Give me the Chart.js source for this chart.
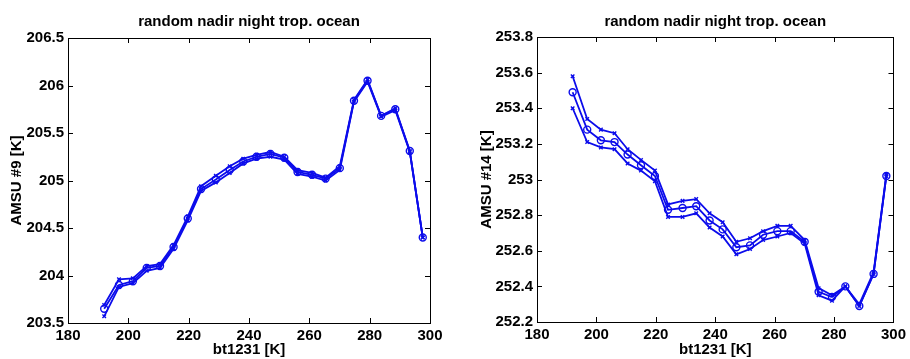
<!DOCTYPE html>
<html>
<head>
<meta charset="utf-8">
<script src="https://cdn.jsdelivr.net/npm/chart.js@4/dist/chart.umd.min.js"></script>
<style>
  html, body { margin: 0; padding: 0; background: #fff; }
  .panel { position: absolute; top: 0; width: 455px; height: 359px; }
  #left { left: 0; }
  #right { left: 455px; }
</style>
</head>
<body>
<div class="panel" id="left"><canvas id="amsu9Chart" width="455" height="359"></canvas></div>
<div class="panel" id="right"><canvas id="amsu14Chart" width="455" height="359"></canvas></div>
<script>
// ---- data ----
const titleText = 'random nadir night trop. ocean';
const xLabel = 'bt1231 [K]';

const bt1231 = [192, 196.9, 201.5, 206.1, 210.5, 215, 219.7, 224.1, 229, 233.6, 238.1, 242.5,
                247.1, 251.7, 256.1, 260.9, 265.4, 270.1, 274.8, 279.3, 283.8, 288.5, 293.3, 297.6];
const xTicks = [180, 200, 220, 240, 260, 280, 300];

const amsu9Upper = [203.69, 203.96, 203.97, 204.10, 204.12, 204.32, 204.62, 204.94, 205.05, 205.15, 205.23, 205.27,
                    205.30, 205.25, 205.11, 205.08, 205.03, 205.15, 205.85, 206.06, 205.68, 205.76, 205.31, 204.40];
const amsu9Mid   = [203.65, 203.90, 203.94, 204.08, 204.10, 204.30, 204.60, 204.91, 205.01, 205.11, 205.20, 205.25,
                    205.28, 205.24, 205.09, 205.06, 205.02, 205.13, 205.84, 206.05, 205.68, 205.75, 205.31, 204.40];
const amsu9Lower = [203.57, 203.88, 203.92, 204.05, 204.08, 204.28, 204.58, 204.89, 204.98, 205.08, 205.18, 205.23,
                    205.25, 205.22, 205.07, 205.04, 205.00, 205.11, 205.83, 206.04, 205.67, 205.74, 205.30, 204.40];
const amsu9Ticks = [203.5, 204, 204.5, 205, 205.5, 206, 206.5];

const amsu14Upper = [253.58, 253.34, 253.28, 253.26, 253.17, 253.11, 253.05, 252.86, 252.88, 252.89, 252.81, 252.76,
                     252.65, 252.67, 252.71, 252.74, 252.74, 252.66, 252.39, 252.35, 252.40, 252.30, 252.48, 253.03];
const amsu14Mid   = [253.49, 253.28, 253.22, 253.21, 253.14, 253.08, 253.02, 252.83, 252.84, 252.85, 252.77, 252.72,
                     252.62, 252.63, 252.69, 252.71, 252.71, 252.65, 252.37, 252.34, 252.40, 252.29, 252.47, 253.02];
const amsu14Lower = [253.40, 253.21, 253.18, 253.17, 253.09, 253.05, 252.99, 252.79, 252.79, 252.81, 252.73, 252.68,
                     252.58, 252.61, 252.66, 252.68, 252.70, 252.64, 252.35, 252.32, 252.40, 252.29, 252.47, 253.02];
const amsu14Ticks = [252.2, 252.4, 252.6, 252.8, 253, 253.2, 253.4, 253.6, 253.8];

const blue = 'rgb(12,12,235)';
const fontFamily = '"Liberation Sans", Arial, Helvetica, sans-serif';

function toPoints(ys) {
  return ys.map((y, i) => ({ x: bt1231[i], y: y }));
}

function series(ys, marker) {
  return {
    data: toPoints(ys),
    showLine: true,
    borderColor: blue,
    backgroundColor: 'rgba(0,0,0,0)',
    borderWidth: 1.8,
    pointStyle: marker,
    pointRadius: marker === 'circle' ? 3.5 : 2.5,
    pointBorderColor: blue,
    pointBorderWidth: 1.4,
    pointBackgroundColor: 'rgba(0,0,0,0)'
  };
}

// MATLAB style box with inward ticks + centred title
const matlabFrame = {
  id: 'matlabFrame',
  afterDraw(chart) {
    const { ctx, chartArea: a, scales } = chart;
    const t = 5;
    ctx.save();
    ctx.strokeStyle = '#000';
    ctx.lineWidth = 1;
    ctx.beginPath();
    scales.x.ticks.forEach(tk => {
      const px = Math.round(scales.x.getPixelForValue(tk.value)) + 0.5;
      ctx.moveTo(px, a.bottom); ctx.lineTo(px, a.bottom - t);
      ctx.moveTo(px, a.top); ctx.lineTo(px, a.top + t);
    });
    scales.y.ticks.forEach(tk => {
      const py = Math.round(scales.y.getPixelForValue(tk.value)) + 0.5;
      ctx.moveTo(a.left, py); ctx.lineTo(a.left + t, py);
      ctx.moveTo(a.right, py); ctx.lineTo(a.right - t, py);
    });
    ctx.stroke();
    ctx.strokeRect(Math.round(a.left) + 0.5, Math.round(a.top) + 0.5,
                   Math.round(a.right - a.left), Math.round(a.bottom - a.top));
    ctx.fillStyle = '#000';
    ctx.font = 'bold 15px ' + fontFamily;
    ctx.textAlign = 'center';
    ctx.textBaseline = 'middle';
    ctx.fillText(titleText, (a.left + a.right) / 2, 22);
    ctx.restore();
  }
};

function makeChart(id, datasets, yTicks, yLabel, box) {
  const ctx = document.getElementById(id).getContext('2d');
  return new Chart(ctx, {
    type: 'scatter',
    data: { datasets: datasets },
    options: {
      responsive: false,
      animation: false,
      devicePixelRatio: 1,
      layout: { padding: { left: 0, right: box.right, top: box.top, bottom: 0 } },
      plugins: { legend: { display: false }, tooltip: { enabled: false }, title: { display: false } },
      scales: {
        x: {
          type: 'linear',
          min: 180, max: 300,
          grid: { display: false, drawTicks: false },
          border: { display: false },
          afterBuildTicks: s => { s.ticks = xTicks.map(v => ({ value: v })); },
          afterFit: s => { s.height = box.xHeight; },
          ticks: { color: '#000', padding: 4, maxRotation: 0, font: { family: fontFamily, size: 15, weight: 'bold' } },
          title: { display: true, text: xLabel, color: '#000', padding: 0,
                   font: { family: fontFamily, size: 15, weight: 'bold' } }
        },
        y: {
          type: 'linear',
          min: yTicks[0], max: yTicks[yTicks.length - 1],
          grid: { display: false, drawTicks: false },
          border: { display: false },
          afterBuildTicks: s => { s.ticks = yTicks.map(v => ({ value: v })); },
          afterFit: s => { s.width = box.yWidth; },
          ticks: { color: '#000', padding: 4,
                   callback: v => String(Math.round(v * 10) / 10),
                   font: { family: fontFamily, size: 15, weight: 'bold' } },
          title: { display: true, text: yLabel, color: '#000', padding: { top: box.yTitlePad, bottom: 0 },
                   font: { family: fontFamily, size: 15, weight: 'bold' } }
        }
      }
    },
    plugins: [matlabFrame]
  });
}

document.addEventListener('DOMContentLoaded', function () {
  makeChart('amsu9Chart',
    [series(amsu9Upper, 'crossRot'), series(amsu9Mid, 'circle'), series(amsu9Lower, 'crossRot')],
    amsu9Ticks, 'AMSU #9 [K]',
    { right: 25, top: 38, xHeight: 36, yWidth: 68, yTitlePad: 8 });

  makeChart('amsu14Chart',
    [series(amsu14Upper, 'crossRot'), series(amsu14Mid, 'circle'), series(amsu14Lower, 'crossRot')],
    amsu14Ticks, 'AMSU #14 [K]',
    { right: 11, top: 37, xHeight: 37, yWidth: 82, yTitlePad: 23 });
});
</script>
</body>
</html>
